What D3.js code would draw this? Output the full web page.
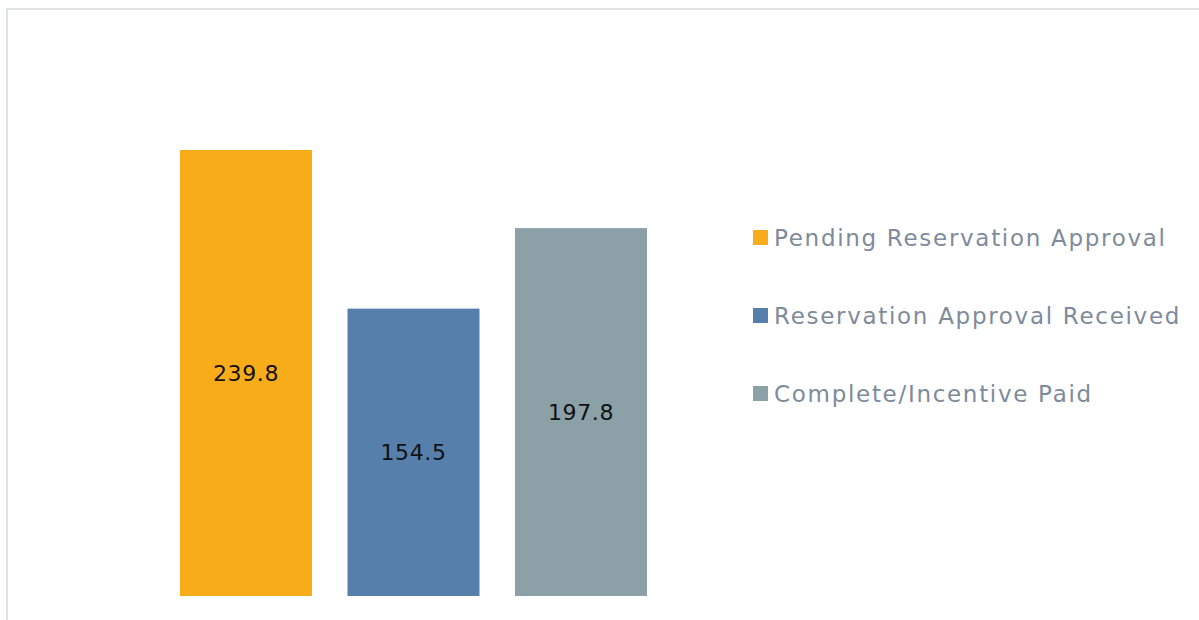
<!DOCTYPE html>
<html>
<head>
<meta charset="utf-8">
<script src="https://cdn.jsdelivr.net/npm/d3@7"></script>
<style>
  body { margin: 0; background: #fff; }
  svg { display: block; }
</style>
</head>
<body>
<script>
// Chart data
var categories = ["Pending Reservation Approval", "Reservation Approval Received", "Complete/Incentive Paid"];
var values = [239.8, 154.5, 197.8];
var colors = ["#f9ac19", "#567fab", "#8ca0a8"];

var svgWidth = 1199;
var svgHeight = 620;

var svg = d3.select("body")
  .append("svg")
  .attr("width", svgWidth)
  .attr("height", svgHeight);

// light frame round the chart (runs off the right and bottom)
svg.append("rect")
  .attr("x", 7)
  .attr("y", 9)
  .attr("width", svgWidth + 20)
  .attr("height", svgHeight + 20)
  .attr("fill", "none")
  .attr("stroke", "#dfe3e6")
  .attr("stroke-width", 2);

// plot area
var plot = { left: 180, right: 647, bottom: 596 };

var xScale = d3.scaleBand()
  .domain(categories)
  .range([plot.left, plot.right])
  .paddingInner(0.212)
  .paddingOuter(0);

var yScale = d3.scaleLinear()
  .domain([0, 320])
  .range([plot.bottom, plot.bottom - 320 * 1.86]);

var data = categories.map(function(c, i) {
  return { name: c, value: values[i], color: colors[i] };
});

svg.selectAll(".bar")
  .data(data)
  .enter()
  .append("rect")
  .attr("class", "bar")
  .attr("x", d => xScale(d.name))
  .attr("y", d => yScale(d.value))
  .attr("width", xScale.bandwidth())
  .attr("height", d => yScale(0) - yScale(d.value))
  .attr("fill", d => d.color);

svg.selectAll(".label")
  .data(data)
  .enter()
  .append("text")
  .attr("class", "label")
  .attr("x", d => xScale(d.name) + xScale.bandwidth() / 2)
  .attr("y", d => (yScale(d.value) + yScale(0)) / 2)
  .attr("dy", "0.36em")
  .attr("text-anchor", "middle")
  .attr("font-family", "'DejaVu Sans', sans-serif")
  .attr("font-size", "22px")
  .attr("letter-spacing", "0.6px")
  .attr("fill", "#111")
  .text(d => d.value.toFixed(1));

// legend
var legend = svg.selectAll(".legend")
  .data(data)
  .enter()
  .append("g")
  .attr("class", "legend")
  .attr("transform", (d, i) => `translate(753, ${238 + i * 78})`);

legend.append("rect")
  .attr("x", 0)
  .attr("y", -8)
  .attr("width", 15)
  .attr("height", 15)
  .attr("fill", d => d.color);

legend.append("text")
  .attr("x", 21)
  .attr("y", 0)
  .attr("dy", "0.36em")
  .attr("font-family", "'DejaVu Sans', sans-serif")
  .attr("font-size", "23px")
  .attr("letter-spacing", "1.7px")
  .attr("fill", "#7d8b9a")
  .text(d => d.name);
</script>
</body>
</html>
